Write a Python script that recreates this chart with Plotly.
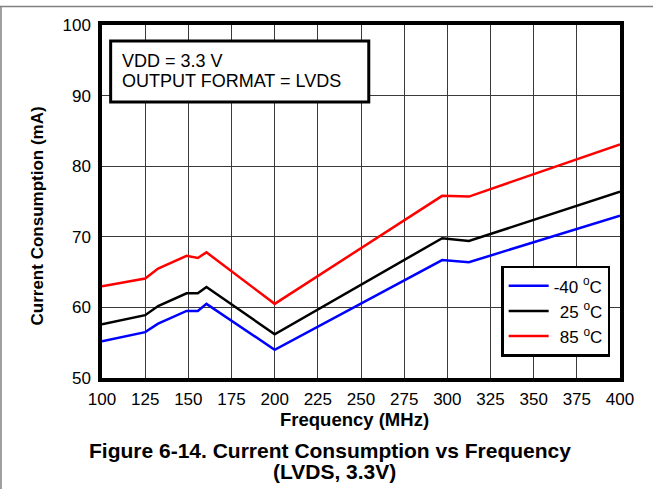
import plotly.graph_objects as go

# Frequency (MHz) and current (mA)
freq = [100, 125, 132.5, 149, 155.5, 160.5, 200, 297, 312.5, 400]
i_m40 = [55.2, 56.5, 57.7, 59.5, 59.5, 60.5, 54.0, 66.7, 66.4, 73.0]
i_25 = [57.6, 58.9, 60.2, 62.0, 62.0, 62.9, 56.2, 69.8, 69.4, 76.4]
i_85 = [63.0, 64.1, 65.5, 67.3, 67.0, 67.8, 60.5, 75.8, 75.7, 83.1]

series_names = ["-40 <sup>o</sup>C", " \u200a25 <sup>o</sup>C", " \u200a85 <sup>o</sup>C"]
series_colors = ["#0000ff", "#000000", "#ff0000"]

x_ticks = [100, 125, 150, 175, 200, 225, 250, 275, 300, 325, 350, 375, 400]
y_ticks = [50, 60, 70, 80, 90, 100]

FONT = "Liberation Sans, Arial, sans-serif"

fig = go.Figure()
for name, ys, col in zip(series_names, [i_m40, i_25, i_85], series_colors):
    fig.add_trace(go.Scatter(x=freq, y=ys, mode="lines", name=name,
                             line=dict(color=col, width=2.5)))

axis_common = dict(showgrid=True, gridcolor="#3a3a3a", gridwidth=1,
                   showline=True, linecolor="black", linewidth=3.5, mirror=True,
                   ticks="", zeroline=False,
                   tickfont=dict(family=FONT, size=17, color="black"))

fig.update_xaxes(range=[100, 400], tickvals=x_ticks, ticklabelstandoff=3, **axis_common)
fig.update_yaxes(range=[50, 100], tickvals=y_ticks, ticklabelstandoff=4, **axis_common)

# axis titles
fig.add_annotation(x=0.488, y=-0.117, xref="paper", yref="paper", yanchor="middle",
                   text="<b>Frequency (MHz)</b>", showarrow=False,
                   font=dict(family=FONT, size=18.5, color="black"))
fig.add_annotation(x=-0.1245, y=0.459, xref="paper", yref="paper",
                   xanchor="center", yanchor="middle",
                   text="<b>Current Consumption (mA)</b>", showarrow=False,
                   textangle=-90, font=dict(family=FONT, size=17, color="black"))

# conditions box
fig.add_shape(type="rect", xref="paper", yref="paper",
              x0=0.0167, x1=0.515, y0=0.782, y1=0.955,
              line=dict(color="black", width=3), fillcolor="white", layer="above")
fig.add_annotation(x=0.0347, y=0.898, xref="paper", yref="paper", xanchor="left",
                   yanchor="middle", showarrow=False, text="VDD = 3.3 V",
                   font=dict(family=FONT, size=18, color="black"))
fig.add_annotation(x=0.0347, y=0.841, xref="paper", yref="paper", xanchor="left",
                   yanchor="middle", showarrow=False, text="OUTPUT FORMAT = LVDS",
                   font=dict(family=FONT, size=18, color="black"))

# caption
fig.add_annotation(x=0.441, y=-0.204, xref="paper", yref="paper", yanchor="middle",
                   showarrow=False,
                   text="<b>Figure 6-14. Current Consumption vs Frequency</b>",
                   font=dict(family=FONT, size=21, color="black"))
fig.add_annotation(x=0.449, y=-0.2635, xref="paper", yref="paper", yanchor="middle",
                   showarrow=False, text="<b>(LVDS, 3.3V)</b>",
                   font=dict(family=FONT, size=21, color="black"))

# page frame lines
fig.add_shape(type="line", xref="paper", yref="paper", x0=-0.2, x1=1.07,
              y0=1.0524, y1=1.0524, line=dict(color="#808080", width=1.5))
fig.add_shape(type="line", xref="paper", yref="paper", x0=-0.195, x1=-0.195,
              y0=1.0524, y1=-0.32, line=dict(color="#808080", width=1.5))

fig.update_layout(
    width=653, height=489,
    margin=dict(l=102, r=33, t=25, b=111),
    paper_bgcolor="white", plot_bgcolor="white",
    font=dict(family=FONT, size=17, color="black"),
    showlegend=True,
    legend=dict(x=0.981, y=0.06, xanchor="right", yanchor="bottom",
                bordercolor="black", borderwidth=2.5, bgcolor="white",
                font=dict(family=FONT, size=17, color="black"),
                tracegroupgap=0, itemwidth=40),
)

fig.write_html("out.html", config={"displayModeBar": False},
               post_script="document.body.style.margin='0';")
